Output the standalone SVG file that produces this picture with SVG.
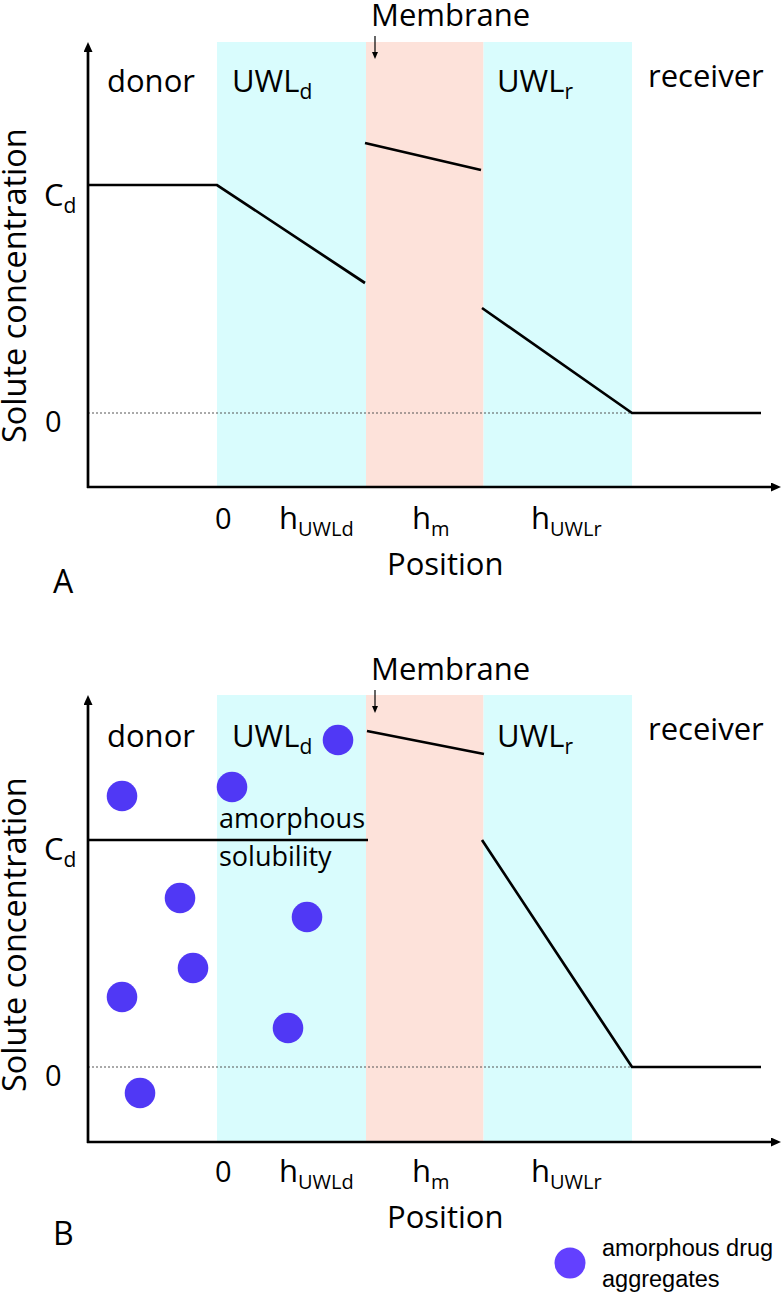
<svg xmlns="http://www.w3.org/2000/svg" width="783" height="1294" viewBox="0 0 783 1294">
<defs>
<style>
.t{font-family:"Open Sans","Noto Sans","Liberation Sans",sans-serif;fill:#000}
.big{font-size:31px}
.sub{font-size:21px}
.tick{font-size:29px}
.xsub{font-size:20px}
.uwl{fill:#d9fcfd}
.mem{fill:#fde2da}
.axis{stroke:#000;stroke-width:2.7;fill:none}
.data{stroke:#000;stroke-width:2.7;fill:none}
.dot{stroke:#555;stroke-width:1;stroke-dasharray:2 2;fill:none}
.thin{stroke:#000;stroke-width:1.2;fill:none}
.agg{fill:#5038f5}
.leg{font-family:"Liberation Sans",Arial,sans-serif;font-size:23.5px;fill:#000}
</style>
<marker id="ah" markerUnits="userSpaceOnUse" markerWidth="10" markerHeight="9" refX="2" refY="4.5" orient="auto">
<path d="M0,0 L10,4.5 L0,9 z" fill="#000"/>
</marker>
<marker id="ahs" markerUnits="userSpaceOnUse" markerWidth="7" markerHeight="7" refX="1" refY="3" orient="auto">
<path d="M0,0 L7,3 L0,6 z" fill="#000"/>
</marker>
</defs>
<rect width="783" height="1294" fill="#fff"/>

<!-- Panel A -->
<g id="panelA">
<g id="A-regions">
<rect class="uwl" x="217" y="42" width="149" height="445"/>
<rect class="mem" x="366" y="42" width="117.5" height="445"/>
<rect class="uwl" x="483.5" y="42" width="148.5" height="445"/>
</g>
<line class="dot" x1="88" y1="413" x2="632" y2="413"/>
<g id="A-axes">
<line class="axis" x1="88" y1="488" x2="88" y2="50" marker-end="url(#ah)"/>
<line class="axis" x1="87" y1="487" x2="773" y2="487" marker-end="url(#ah)"/>
</g>
<g id="A-profile">
<polyline class="data" points="88,185 217,185 365,283"/>
<line class="data" x1="365" y1="143" x2="481" y2="170"/>
<polyline class="data" points="482,308 632,413 761,413"/>
</g>
<g id="A-membrane-label">
<text class="t big" x="371" y="26">Membrane</text>
<line class="thin" x1="375" y1="36" x2="375" y2="53" marker-end="url(#ahs)"/>
</g>
<g id="A-region-labels">
<text class="t big" x="107" y="92">donor</text>
<text class="t big" x="232" y="92">UWL<tspan class="sub" dy="7">d</tspan></text>
<text class="t big" x="497" y="92">UWL<tspan class="sub" dy="7">r</tspan></text>
<text class="t big" x="648" y="87">receiver</text>
</g>
<g id="A-y-labels">
<text class="t big" x="44" y="206">C<tspan class="sub" dy="7">d</tspan></text>
<text class="t tick" x="45" y="432">0</text>
<text class="t" font-size="32.5" transform="translate(26,443) rotate(-90)">Solute concentration</text>
</g>
<g id="A-x-labels">
<text class="t tick" x="215" y="529">0</text>
<text class="t big" x="279" y="529">h<tspan class="xsub" dy="7">UWLd</tspan></text>
<text class="t big" x="412" y="529">h<tspan class="xsub" dy="7">m</tspan></text>
<text class="t big" x="531" y="529">h<tspan class="xsub" dy="7">UWLr</tspan></text>
<text class="t big" x="387" y="575">Position</text>
<text class="t" font-size="32" x="53" y="593">A</text>
</g>
</g>

<!-- Panel B -->
<g id="panelB">
<g id="B-regions">
<rect class="uwl" x="217" y="695" width="149" height="447"/>
<rect class="mem" x="366" y="695" width="117.5" height="447"/>
<rect class="uwl" x="483.5" y="695" width="148.5" height="447"/>
</g>
<line class="dot" x1="88" y1="1067" x2="632" y2="1067"/>
<g id="B-axes">
<line class="axis" x1="88" y1="1143" x2="88" y2="703" marker-end="url(#ah)"/>
<line class="axis" x1="87" y1="1142" x2="773" y2="1142" marker-end="url(#ah)"/>
</g>
<g id="B-profile">
<line class="data" x1="88" y1="840" x2="368" y2="840"/>
<line class="data" x1="367" y1="731" x2="484" y2="754"/>
<polyline class="data" points="482,840 632,1067 761,1067"/>
</g>
<g id="B-membrane-label">
<text class="t big" x="371" y="680">Membrane</text>
<line class="thin" x1="375" y1="690" x2="375" y2="707" marker-end="url(#ahs)"/>
</g>
<g id="B-region-labels">
<text class="t big" x="107" y="747">donor</text>
<text class="t big" x="232" y="747">UWL<tspan class="sub" dy="7">d</tspan></text>
<text class="t big" x="497" y="747">UWL<tspan class="sub" dy="7">r</tspan></text>
<text class="t big" x="648" y="740">receiver</text>
<text class="t" font-size="27" x="219" y="828">amorphous</text>
<text class="t" font-size="27" x="219" y="866">solubility</text>
</g>
<g id="B-aggregates">
<circle class="agg" cx="338" cy="740" r="15.3"/>
<circle class="agg" cx="122" cy="796" r="15.3"/>
<circle class="agg" cx="232" cy="787" r="15.3"/>
<circle class="agg" cx="180" cy="898" r="15.3"/>
<circle class="agg" cx="307" cy="917" r="15.3"/>
<circle class="agg" cx="193" cy="968" r="15.3"/>
<circle class="agg" cx="122" cy="997" r="15.3"/>
<circle class="agg" cx="288" cy="1028" r="15.3"/>
<circle class="agg" cx="140" cy="1093" r="15.3"/>
</g>
<g id="B-y-labels">
<text class="t big" x="44" y="860">C<tspan class="sub" dy="7">d</tspan></text>
<text class="t tick" x="45" y="1086">0</text>
<text class="t" font-size="32.5" transform="translate(26,1092) rotate(-90)">Solute concentration</text>
</g>
<g id="B-x-labels">
<text class="t tick" x="215" y="1182">0</text>
<text class="t big" x="279" y="1182">h<tspan class="xsub" dy="7">UWLd</tspan></text>
<text class="t big" x="412" y="1182">h<tspan class="xsub" dy="7">m</tspan></text>
<text class="t big" x="531" y="1182">h<tspan class="xsub" dy="7">UWLr</tspan></text>
<text class="t big" x="387" y="1228">Position</text>
<text class="t" font-size="32" x="53" y="1245">B</text>
</g>
</g>

<g id="legend">
<circle cx="570" cy="1263" r="15.5" fill="#6340ff"/>
<text class="leg" x="602" y="1256">amorphous drug</text>
<text class="leg" x="602" y="1287">aggregates</text>
</g>
</svg>
